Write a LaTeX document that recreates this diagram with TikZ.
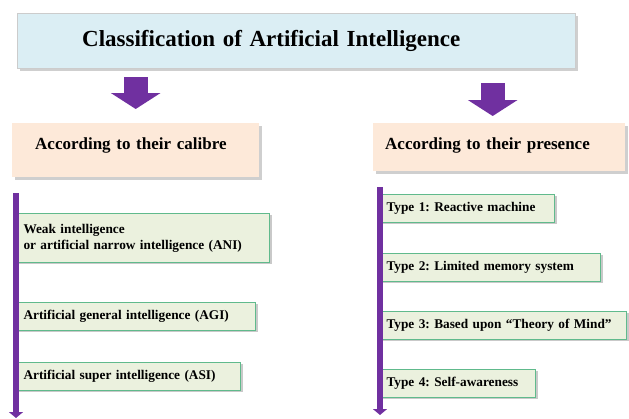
\documentclass[tikz,border=0pt]{standalone}
\usepackage{fontspec}
\setmainfont{Liberation Serif}
\usepackage{tikz}
\usetikzlibrary{arrows.meta,shadows}
\frenchspacing
\definecolor{aipurple}{RGB}{112,48,160}
\definecolor{titleblue}{RGB}{219,238,244}
\definecolor{headpeach}{RGB}{253,233,217}
\definecolor{itemgreen}{RGB}{235,241,222}
\definecolor{bordergreen}{RGB}{96,186,140}

\begin{document}
\begin{tikzpicture}[
    x=1pt, y=-1pt,
    titlebox/.style={rectangle, fill=titleblue, draw=gray!40, anchor=west, minimum height=55pt, text width=428pt, inner xsep=65pt, align=left, font=\fontsize{23}{27}\selectfont\bfseries, drop shadow={shadow xshift=3pt, shadow yshift=-3pt, fill=gray!75}},
    headbox/.style={rectangle, fill=headpeach, anchor=north west, inner ysep=0pt, align=left, font=\fontsize{17}{20}\selectfont\bfseries, drop shadow={shadow xshift=3pt, shadow yshift=-3pt, fill=gray!75}},
    item/.style={rectangle, draw=bordergreen, line width=1pt, fill=itemgreen, anchor=north west, text width=#1, inner xsep=7pt, minimum height=28pt, align=left, font=\fontsize{13.3}{16}\selectfont\bfseries, drop shadow={shadow xshift=2.5pt, shadow yshift=-1pt, fill=gray!85}},
    blockarrow/.style={line width=24pt, color=aipurple, -{Triangle[width=49pt,length=16pt]}},
    timeline/.style={line width=6pt, color=aipurple, -{Triangle[width=14pt,length=6pt]}}
]
\useasboundingbox (0,0) rectangle (629,418);

\node[titlebox] (title) at (17,40.5) {Classification of Artificial Intelligence};

\node[headbox, inner xsep=23pt, text width=201pt, text height=26pt, text depth=28pt] (calibre) at (12,123) {According to their calibre};
\node[headbox, inner xsep=12pt, text width=228pt, text height=26pt, text depth=22pt] (presence) at (373,123) {According to their presence};

\draw[blockarrow, shorten <=9pt, shorten >=14pt] (title.south -| calibre.north) -- (calibre.north);
\draw[blockarrow, shorten <=15pt, shorten >=7pt] ([xshift=-6.5pt]title.south -| presence.north) -- ([xshift=-6.5pt]presence.north);

% calibre
\node[item=239pt, minimum height=49pt] (ani) at (16,213) {Weak intelligence\\or artificial narrow intelligence (ANI)};
\node[item=225pt] (agi) at (16,302) {Artificial general intelligence (AGI)};
\node[item=210pt] (asi) at (16,362) {Artificial super intelligence (ASI)};

% presence
\node[item=160pt, inner xsep=8pt] (type1) at (378,194) {Type 1: Reactive machine};
\node[item=206pt, inner xsep=8pt] (type2) at (378,253) {Type 2: Limited memory system};
\node[item=232pt, inner xsep=8pt] (type3) at (378,311) {Type 3: Based upon ``Theory of Mind''};
\node[item=141pt, inner xsep=8pt] (type4) at (378,369) {Type 4: Self-awareness};

\coordinate (ltop) at (16,193);
\coordinate (lbot) at (16,418);
\coordinate (rtop) at (380,187);
\coordinate (rbot) at (380,415);
\draw[timeline] (ltop) -- (lbot);
\draw[timeline] (rtop) -- (rbot);
\end{tikzpicture}
\end{document}
